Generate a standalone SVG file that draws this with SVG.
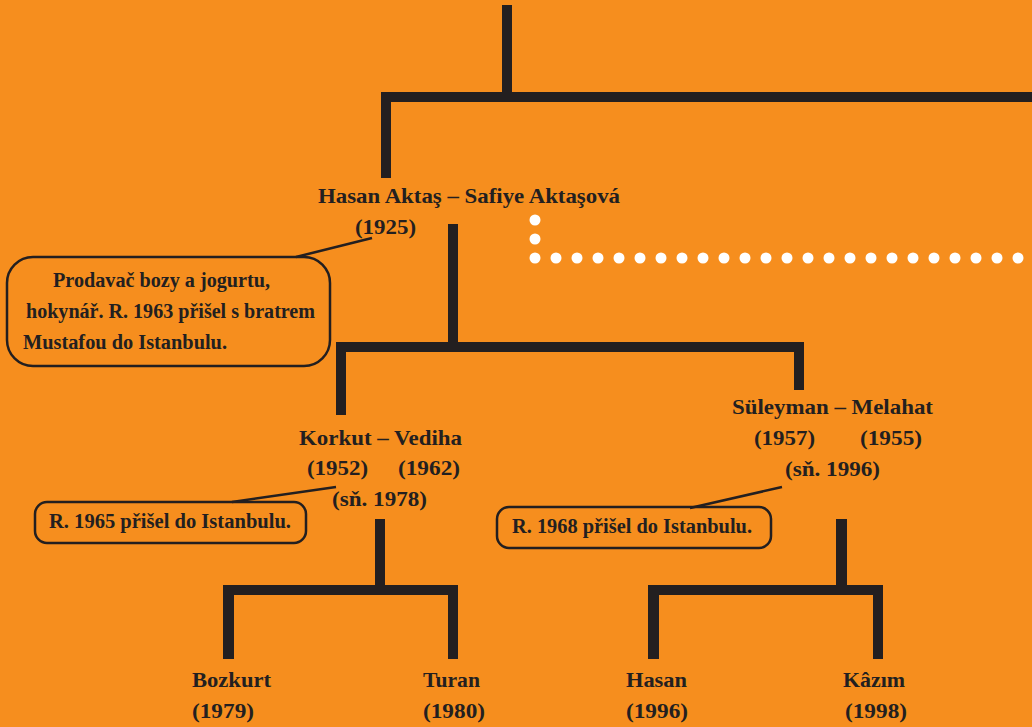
<svg xmlns="http://www.w3.org/2000/svg" width="1032" height="727" viewBox="0 0 1032 727">
<style>
.t{font-family:"Liberation Serif","DejaVu Serif",serif;font-weight:bold;font-size:22px;fill:#231F20}
.c{font-family:"Liberation Serif","DejaVu Serif",serif;font-weight:bold;font-size:20px;fill:#231F20}
.ln{fill:#231F20}
.box{fill:none;stroke:#231F20;stroke-width:2.5}
.ptr{stroke:#231F20;stroke-width:2.5;fill:none}
.dot{fill:#FFFFFF}
</style>
<rect x="0" y="0" width="1032" height="727" fill="#F68E1E"/>
<g id="connectors">
<rect class="ln" x="502" y="5" width="10" height="92"/>
<rect class="ln" x="381" y="92" width="651" height="10"/>
<rect class="ln" x="381" y="92" width="10" height="86"/>
<rect class="ln" x="448" y="224" width="10" height="124"/>
<rect class="ln" x="336" y="342" width="468" height="10"/>
<rect class="ln" x="336" y="342" width="10" height="73"/>
<rect class="ln" x="794" y="342" width="10" height="48"/>
<rect class="ln" x="375" y="519" width="10" height="72"/>
<rect class="ln" x="223" y="585" width="235" height="10"/>
<rect class="ln" x="223" y="585" width="11" height="74"/>
<rect class="ln" x="448" y="585" width="10" height="74"/>
<rect class="ln" x="836" y="519" width="11" height="72"/>
<rect class="ln" x="648" y="585" width="235" height="10"/>
<rect class="ln" x="648" y="585" width="11" height="74"/>
<rect class="ln" x="873" y="585" width="10" height="74"/>
<g id="dots">
<circle class="dot" cx="535" cy="220" r="5.5"/>
<circle class="dot" cx="535" cy="239" r="5.5"/>
<circle class="dot" cx="535" cy="258" r="5.5"/>
<circle class="dot" cx="556" cy="258" r="5.5"/>
<circle class="dot" cx="577" cy="258" r="5.5"/>
<circle class="dot" cx="598" cy="258" r="5.5"/>
<circle class="dot" cx="619" cy="258" r="5.5"/>
<circle class="dot" cx="640" cy="258" r="5.5"/>
<circle class="dot" cx="661" cy="258" r="5.5"/>
<circle class="dot" cx="682" cy="258" r="5.5"/>
<circle class="dot" cx="703" cy="258" r="5.5"/>
<circle class="dot" cx="724" cy="258" r="5.5"/>
<circle class="dot" cx="745" cy="258" r="5.5"/>
<circle class="dot" cx="766" cy="258" r="5.5"/>
<circle class="dot" cx="787" cy="258" r="5.5"/>
<circle class="dot" cx="808" cy="258" r="5.5"/>
<circle class="dot" cx="829" cy="258" r="5.5"/>
<circle class="dot" cx="850" cy="258" r="5.5"/>
<circle class="dot" cx="871" cy="258" r="5.5"/>
<circle class="dot" cx="892" cy="258" r="5.5"/>
<circle class="dot" cx="913" cy="258" r="5.5"/>
<circle class="dot" cx="934" cy="258" r="5.5"/>
<circle class="dot" cx="955" cy="258" r="5.5"/>
<circle class="dot" cx="976" cy="258" r="5.5"/>
<circle class="dot" cx="997" cy="258" r="5.5"/>
<circle class="dot" cx="1018" cy="258" r="5.5"/>
</g>
<line class="ptr" x1="296" y1="257" x2="372" y2="238"/>
<line class="ptr" x1="232" y1="502" x2="336" y2="487"/>
<line class="ptr" x1="690" y1="508" x2="782" y2="487"/>
</g>
<g id="hasan-safiye">
<text class="t" x="318" y="203" textLength="302" lengthAdjust="spacingAndGlyphs">Hasan Aktaş – Safiye Aktaşová</text>
<text class="t" x="355" y="234" textLength="61" lengthAdjust="spacingAndGlyphs">(1925)</text>
</g>
<g id="note-hasan">
<rect class="box" x="7" y="257" width="323" height="109" rx="26"/>
<text class="c" x="53" y="287" textLength="217" lengthAdjust="spacingAndGlyphs">Prodavač bozy a jogurtu,</text>
<text class="c" x="26" y="318" textLength="289" lengthAdjust="spacingAndGlyphs">hokynář. R. 1963 přišel s bratrem</text>
<text class="c" x="23" y="349" textLength="204" lengthAdjust="spacingAndGlyphs">Mustafou do Istanbulu.</text>
</g>
<g id="korkut-vediha">
<text class="t" x="299" y="445" textLength="163" lengthAdjust="spacingAndGlyphs">Korkut – Vediha</text>
<text class="t" x="307" y="475" textLength="61" lengthAdjust="spacingAndGlyphs">(1952)</text>
<text class="t" x="398" y="475" textLength="62" lengthAdjust="spacingAndGlyphs">(1962)</text>
<text class="t" x="332" y="506" textLength="95" lengthAdjust="spacingAndGlyphs">(sň. 1978)</text>
</g>
<g id="note-korkut">
<rect class="box" x="35" y="502" width="271" height="41" rx="12"/>
<text class="c" x="49" y="528" textLength="242" lengthAdjust="spacingAndGlyphs">R. 1965 přišel do Istanbulu.</text>
</g>
<g id="suleyman-melahat">
<text class="t" x="732" y="414" textLength="201" lengthAdjust="spacingAndGlyphs">Süleyman – Melahat</text>
<text class="t" x="754" y="445" textLength="61" lengthAdjust="spacingAndGlyphs">(1957)</text>
<text class="t" x="860" y="445" textLength="62" lengthAdjust="spacingAndGlyphs">(1955)</text>
<text class="t" x="785" y="476" textLength="95" lengthAdjust="spacingAndGlyphs">(sň. 1996)</text>
</g>
<g id="note-suleyman">
<rect class="box" x="497" y="507" width="274" height="41" rx="12"/>
<text class="c" x="512" y="533" textLength="240" lengthAdjust="spacingAndGlyphs">R. 1968 přišel do Istanbulu.</text>
</g>
<g id="bozkurt">
<text class="t" x="192" y="687" textLength="79" lengthAdjust="spacingAndGlyphs">Bozkurt</text>
<text class="t" x="192" y="718" textLength="62" lengthAdjust="spacingAndGlyphs">(1979)</text>
</g>
<g id="turan">
<text class="t" x="423" y="687" textLength="57" lengthAdjust="spacingAndGlyphs">Turan</text>
<text class="t" x="423" y="718" textLength="62" lengthAdjust="spacingAndGlyphs">(1980)</text>
</g>
<g id="hasan">
<text class="t" x="626" y="687" textLength="61" lengthAdjust="spacingAndGlyphs">Hasan</text>
<text class="t" x="626" y="718" textLength="62" lengthAdjust="spacingAndGlyphs">(1996)</text>
</g>
<g id="kazim">
<text class="t" x="843" y="687" textLength="62" lengthAdjust="spacingAndGlyphs">Kâzım</text>
<text class="t" x="845" y="718" textLength="62" lengthAdjust="spacingAndGlyphs">(1998)</text>
</g>
</svg>
